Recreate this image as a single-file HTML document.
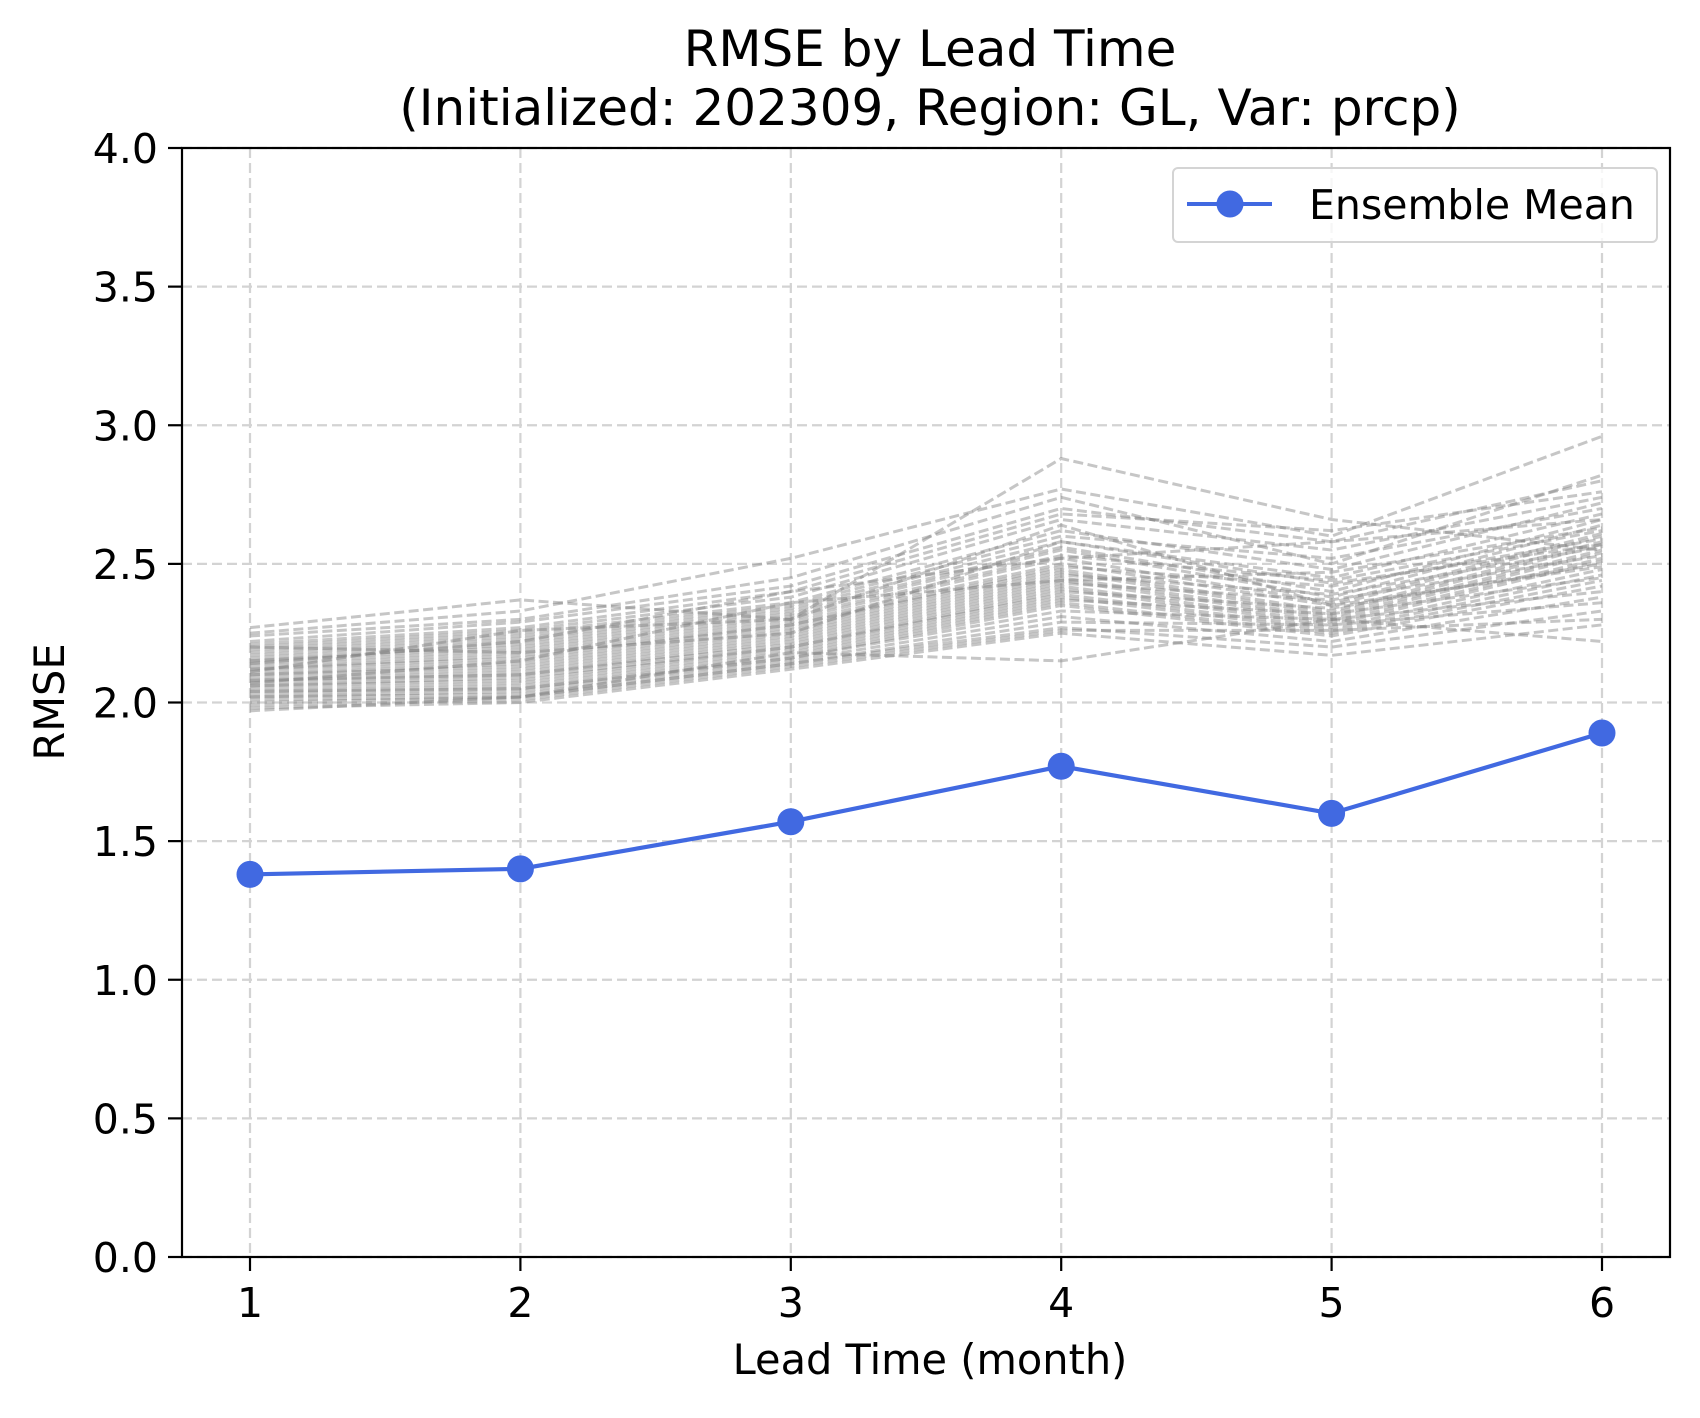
<!DOCTYPE html>
<html><head><meta charset="utf-8"><style>
html,body{margin:0;padding:0;background:#fff}
svg text{font-family:"DejaVu Sans","Liberation Sans",sans-serif;fill:#000}
</style></head><body>
<svg id="chart" width="1700" height="1413" viewBox="0 0 1700 1413" xmlns="http://www.w3.org/2000/svg">
<rect width="1700" height="1413" fill="#fff"/>
<g id="grid"></g>
<g id="members"></g>
<g id="mean"></g>
<rect x="182" y="148" width="1488" height="1109" fill="none" stroke="#000" stroke-width="2.2"/>
<g id="ticks"></g>
<text x="930" y="66" font-size="50" text-anchor="middle">RMSE by Lead Time</text>
<text x="930" y="125" font-size="50" text-anchor="middle">(Initialized: 202309, Region: GL, Var: prcp)</text>
<text x="930" y="1374" font-size="41.5" text-anchor="middle">Lead Time (month)</text>
<text transform="translate(64,702) rotate(-90)" font-size="41.5" text-anchor="middle">RMSE</text>
<g>
<rect x="1173" y="168" width="484" height="74" rx="5" fill="#fff" fill-opacity="0.8" stroke="#d4d4d4" stroke-width="2"/>
<line x1="1187" y1="204" x2="1272" y2="204" stroke="#4169e1" stroke-width="4"/>
<circle cx="1230" cy="204" r="13.5" fill="#4169e1"/>
<text x="1309" y="219" font-size="41">Ensemble Mean</text>
</g>
</svg>
<script>
const leadTimes = [1, 2, 3, 4, 5, 6];
const yTicks = [0.0, 0.5, 1.0, 1.5, 2.0, 2.5, 3.0, 3.5, 4.0];
const meanValues = [1.38, 1.40, 1.57, 1.77, 1.60, 1.89];
const members = [
[2.27,2.37,2.30,2.88,2.66,2.55],
[2.25,2.33,2.52,2.77,2.60,2.96],
[2.24,2.30,2.45,2.74,2.50,2.82],
[2.22,2.29,2.42,2.70,2.58,2.80],
[2.21,2.27,2.40,2.68,2.62,2.76],
[2.20,2.26,2.38,2.66,2.55,2.74],
[2.19,2.25,2.36,2.62,2.48,2.72],
[2.18,2.24,2.35,2.60,2.52,2.70],
[2.17,2.23,2.34,2.58,2.45,2.68],
[2.16,2.22,2.33,2.56,2.40,2.66],
[2.15,2.21,2.32,2.55,2.38,2.64],
[2.15,2.20,2.31,2.53,2.44,2.62],
[2.14,2.19,2.30,2.52,2.36,2.61],
[2.13,2.18,2.29,2.50,2.35,2.60],
[2.12,2.17,2.28,2.49,2.42,2.59],
[2.12,2.16,2.28,2.48,2.33,2.58],
[2.11,2.15,2.27,2.47,2.32,2.57],
[2.10,2.14,2.26,2.46,2.39,2.56],
[2.10,2.13,2.25,2.45,2.31,2.55],
[2.09,2.12,2.24,2.44,2.30,2.54],
[2.08,2.11,2.23,2.43,2.37,2.53],
[2.08,2.10,2.22,2.42,2.29,2.52],
[2.07,2.10,2.21,2.41,2.28,2.51],
[2.06,2.09,2.20,2.40,2.34,2.50],
[2.06,2.08,2.20,2.39,2.27,2.48],
[2.05,2.07,2.19,2.38,2.26,2.46],
[2.04,2.06,2.18,2.37,2.32,2.45],
[2.04,2.05,2.17,2.36,2.25,2.44],
[2.03,2.05,2.16,2.35,2.24,2.42],
[2.02,2.04,2.16,2.33,2.30,2.40],
[2.02,2.03,2.15,2.31,2.22,2.38],
[2.01,2.02,2.14,2.29,2.28,2.36],
[2.00,2.02,2.14,2.27,2.20,2.33],
[1.99,2.01,2.13,2.26,2.26,2.30],
[1.98,2.00,2.12,2.25,2.17,2.28],
[1.97,2.02,2.18,2.15,2.30,2.22],
[2.14,2.22,2.40,2.52,2.58,2.66],
[2.20,2.18,2.25,2.58,2.43,2.57],
[2.11,2.26,2.30,2.64,2.35,2.49],
[2.07,2.15,2.36,2.44,2.47,2.63]
];
const NS = 'http://www.w3.org/2000/svg';
const X0 = 250, X1 = 1602, YB = 1257, YT = 148, L = 182, R = 1670;
function xs(v){ return X0 + (v - 1) * (X1 - X0) / 5; }
function ys(v){ return YB - v * (YB - YT) / 4; }
function mk(tag, attrs, parent){ const e = document.createElementNS(NS, tag); for (const k in attrs) e.setAttribute(k, attrs[k]); parent.appendChild(e); return e; }
const grid = document.getElementById('grid');
const ticks = document.getElementById('ticks');
leadTimes.forEach(t => {
  const g = mk('line', {x1: xs(t), x2: xs(t), y1: YT, y2: YB, stroke: '#d3d3d3', 'stroke-width': 2.2, 'stroke-dasharray': '10,5'}, grid);
  
  
  const tk = mk('line', {x1: xs(t), x2: xs(t), y1: YB, y2: YB + 14, stroke: '#000', 'stroke-width': 2.2}, ticks);
  
  
  const tl = mk('text', {x: xs(t), y: YB + 60, 'font-size': 41, 'text-anchor': 'middle'}, ticks);
  tl.textContent = t;
  
  
});
yTicks.forEach(v => {
  const g = mk('line', {x1: L, x2: R, y1: ys(v), y2: ys(v), stroke: '#d3d3d3', 'stroke-width': 2.2, 'stroke-dasharray': '10,5'}, grid);
  
  
  const tk = mk('line', {x1: L - 14, x2: L, y1: ys(v), y2: ys(v), stroke: '#000', 'stroke-width': 2.2}, ticks);
  
  
  const tl = mk('text', {x: L - 24, y: ys(v) + 15, 'font-size': 41, 'text-anchor': 'end'}, ticks);
  tl.textContent = v.toFixed(1);
  
  
});
const mg = document.getElementById('members');
members.forEach(m => {
  const p = mk('polyline', {points: m.map((v, i) => xs(leadTimes[i]) + ',' + ys(v)).join(' '), fill: 'none', stroke: '#808080', 'stroke-opacity': 0.45, 'stroke-width': 3, 'stroke-dasharray': '10,4.5'}, mg);
  
  
});
const meanG = document.getElementById('mean');
const ml = mk('polyline', {points: meanValues.map((v, i) => xs(leadTimes[i]) + ',' + ys(v)).join(' '), fill: 'none', stroke: '#4169e1', 'stroke-width': 4.2}, meanG);


meanValues.forEach((v, i) => {
  const c = mk('circle', {cx: xs(leadTimes[i]), cy: ys(v), r: 13.5, fill: '#4169e1'}, meanG);
  
  
});
</script>
</body></html>
